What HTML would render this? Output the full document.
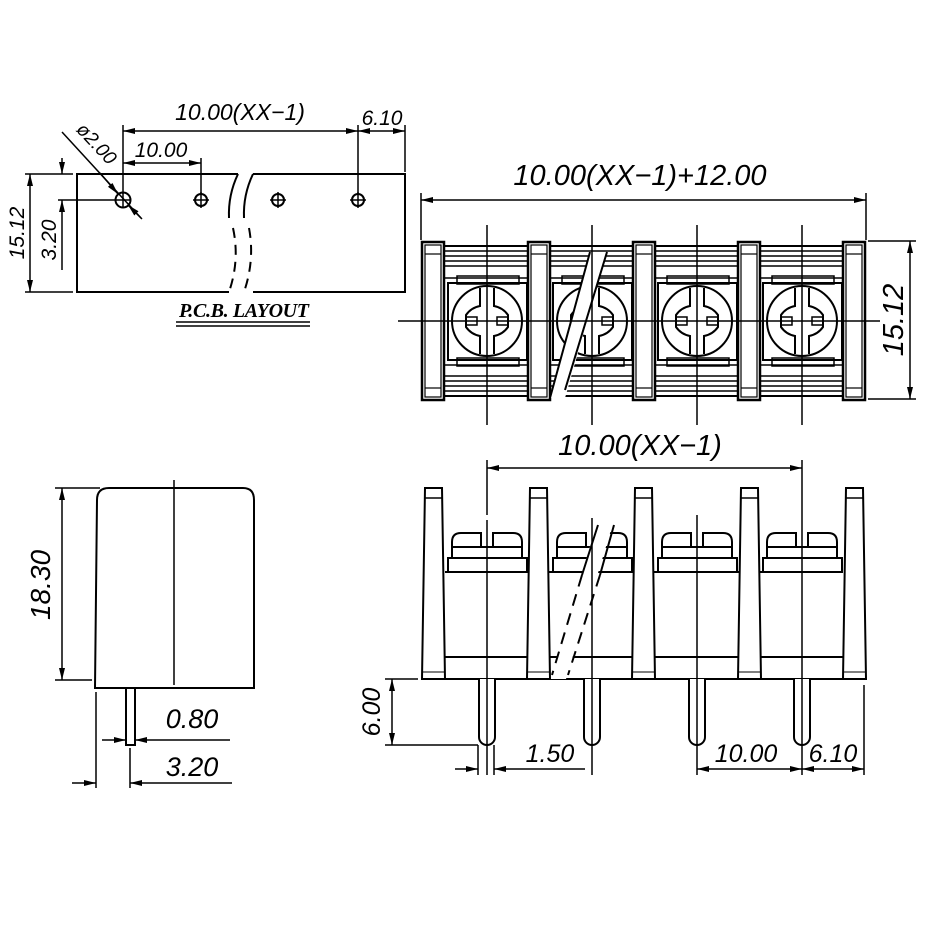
<!DOCTYPE html>
<html><head><meta charset="utf-8"><style>
html,body{margin:0;padding:0;background:#fff;}
svg{display:block;}
text{font-family:"Liberation Sans",sans-serif;font-style:italic;fill:#000;}
</style></head><body>
<svg width="945" height="945" viewBox="0 0 945 945" xmlns="http://www.w3.org/2000/svg">
<defs>
<marker id="a" viewBox="0 0 12 6" refX="12" refY="3" markerWidth="12" markerHeight="6" markerUnits="userSpaceOnUse" orient="auto-start-reverse"><path d="M0,0 L12,3 L0,6 Z" fill="#000"/></marker>
<g id="cell">
 <rect x="-39" y="-38" width="79" height="77" fill="none" stroke="#000" stroke-width="2"/>
 <rect x="-44" y="-43" width="89" height="87" fill="none" stroke="#000" stroke-width="1.5"/>
 <rect x="-30" y="-45" width="62" height="8" fill="none" stroke="#000" stroke-width="1.5"/>
 <rect x="-30" y="37" width="62" height="8" fill="none" stroke="#000" stroke-width="1.5"/>
 <circle cx="0" cy="0" r="35" fill="none" stroke="#000" stroke-width="2"/>
 <path d="M-7,-33 V-15 A22,22 0 0 0 -21,-6 V6 A22,22 0 0 0 -7,15 V33 M7,-33 V-15 A22,22 0 0 1 21,-6 V6 A22,22 0 0 1 7,15 V33" fill="none" stroke="#000" stroke-width="2"/>
 <path d="M-21,-4 H-10 V4 H-21 M21,-4 H10 V4 H21" fill="none" stroke="#000" stroke-width="1.5"/>
</g>
<g id="bar">
 <rect x="0" y="0" width="22" height="158" fill="#fff" stroke="#000" stroke-width="2.5"/>
 <rect x="3" y="3" width="16" height="152" fill="none" stroke="#000" stroke-width="1.2"/>
 <line x1="3" y1="12" x2="19" y2="12" stroke="#000" stroke-width="1.2"/>
 <line x1="3" y1="146" x2="19" y2="146" stroke="#000" stroke-width="1.2"/>
</g>
<g id="post">
 <path d="M3,0 H20 L23,191 H0 Z" fill="#fff" stroke="#000" stroke-width="2"/>
 <line x1="3" y1="10" x2="20" y2="10" stroke="#000" stroke-width="1.5"/>
 <line x1="0" y1="184" x2="23" y2="184" stroke="#000" stroke-width="1"/>
</g>
<g id="term">
 <path d="M-35,25 V9 Q-35,0 -26,0 H-6 V14 M6,14 V0 H26 Q35,0 35,9 V25" fill="none" stroke="#000" stroke-width="2"/>
 <path d="M-35,14 H35 M-35,25 H35" fill="none" stroke="#000" stroke-width="2"/>
 <rect x="-39" y="25" width="79" height="14" fill="none" stroke="#000" stroke-width="2"/>
 <path d="M-8,146 V204 A8,8 0 0 0 8,204 V146" fill="#fff" stroke="#000" stroke-width="2"/>
</g>
</defs>
<g fill="none" stroke="#000" stroke-width="2">
<path d="M238,174 H77 V292 H229 M253,292 H405 V174 H253"/>
<path d="M238,174 Q228,195 229,218 M253,174 Q243,195 244,218"/>
<path d="M233,228 Q240,260 229,292 M249,228 Q255,260 244,292" stroke-dasharray="10,7"/>
<circle cx="123" cy="200" r="7.5"/>
<circle cx="201" cy="200" r="6"/><circle cx="278" cy="200" r="6"/><circle cx="358" cy="200" r="6"/>
<path d="M115,200 H131 M123,192 V208 M193,200 H209 M201,192 V208 M270,200 H286 M278,192 V208 M350,200 H366 M358,192 V208" stroke-width="1.5"/>
<path d="M123,194 V125 M201,194 V158 M358,194 V125 M405,172 V125" stroke-width="1.5"/>
<line x1="123" y1="131" x2="358" y2="131" stroke-width="1.5" marker-start="url(#a)" marker-end="url(#a)"/>
<line x1="358" y1="131" x2="405" y2="131" stroke-width="1.5" marker-start="url(#a)" marker-end="url(#a)"/>
<line x1="123" y1="163" x2="201" y2="163" stroke-width="1.5" marker-start="url(#a)" marker-end="url(#a)"/>
<path d="M25,174 H73 M25,292 H73 M58,200 H116" stroke-width="1.5"/>
<line x1="30" y1="174" x2="30" y2="292" stroke-width="1.5" marker-start="url(#a)" marker-end="url(#a)"/>
<line x1="62" y1="158" x2="62" y2="174" stroke-width="1.5" marker-end="url(#a)"/>
<line x1="62" y1="270" x2="62" y2="200" stroke-width="1.5" marker-end="url(#a)"/>
<line x1="62" y1="132" x2="141" y2="218" stroke-width="1.5"/>
<line x1="100" y1="173" x2="118" y2="194" stroke-width="1.5" marker-end="url(#a)"/>
<line x1="142" y1="219" x2="128" y2="205" stroke-width="1.5" marker-end="url(#a)"/>
<path d="M176,322 H310 M176,326 H310" stroke-width="1.5"/>
</g>
<text x="240" y="120" font-size="23" text-anchor="middle">10.00(XX−1)</text>
<text x="382" y="125" font-size="21" text-anchor="middle">6.10</text>
<text x="161" y="157" font-size="21" text-anchor="middle">10.00</text>
<text transform="translate(24,233) rotate(-90)" font-size="21" text-anchor="middle">15.12</text>
<text transform="translate(56,240) rotate(-90)" font-size="21" text-anchor="middle">3.20</text>
<text transform="translate(92,148) rotate(47)" font-size="19" text-anchor="middle">ø2.00</text>
<text x="244" y="317" font-size="20" font-weight="bold" text-anchor="middle" style="font-family:'Liberation Serif',serif" textLength="130">P.C.B.  LAYOUT</text>

<g fill="none" stroke="#000">
<path d="M444,251 H843 M444,256 H843 M444,261 H843 M444,266 H843 M444,376 H843 M444,381 H843 M444,386 H843 M444,391 H843" stroke-width="1.5"/>
<rect x="444" y="246" width="399" height="150" stroke-width="2"/>
</g>
<use href="#cell" x="487" y="321"/><use href="#cell" x="592" y="321"/><use href="#cell" x="697" y="321"/><use href="#cell" x="802" y="321"/>
<use href="#bar" x="422" y="242"/><use href="#bar" x="528" y="242"/><use href="#bar" x="633" y="242"/><use href="#bar" x="738" y="242"/><use href="#bar" x="843" y="242"/>
<path d="M590,252 L550,398 L565,398 L607,252 Z" fill="#fff" stroke="none"/>
<path d="M590,252 L550,398 M607,252 L565,390" fill="none" stroke="#000" stroke-width="2"/>
<g fill="none" stroke="#000" stroke-width="1.5">
<path d="M398,321 H880"/>
<path d="M487,225 V425 M592,225 V425 M697,225 V425 M802,225 V425"/>
<path d="M421,240 V193 M866,240 V193 M868,241 H916 M868,399 H916"/>
<line x1="421" y1="200" x2="866" y2="200" marker-start="url(#a)" marker-end="url(#a)"/>
<line x1="910" y1="241" x2="910" y2="399" marker-start="url(#a)" marker-end="url(#a)"/>
</g>
<text x="640" y="185" font-size="29" text-anchor="middle">10.00(XX−1)+12.00</text>
<text transform="translate(903,320) rotate(-90)" font-size="29" text-anchor="middle">15.12</text>

<g fill="none" stroke="#000" stroke-width="2">
<path d="M445,572 H843 M445,657 H843 M445,679 H843"/>
</g>
<use href="#term" x="487" y="533"/><use href="#term" x="592" y="533"/><use href="#term" x="697" y="533"/><use href="#term" x="802" y="533"/>
<path d="M598,520 L550,679 L566,679 L614,520 Z" fill="#fff"/>
<path d="M598,525 L582,575 M614,525 L600,575" fill="none" stroke="#000" stroke-width="2"/>
<path d="M582,575 L552,675 M600,575 L568,675" fill="none" stroke="#000" stroke-width="2" stroke-dasharray="12,8"/>
<use href="#post" x="422" y="488"/><use href="#post" x="527" y="488"/><use href="#post" x="632" y="488"/><use href="#post" x="738" y="488"/><use href="#post" x="843" y="488"/>
<g fill="none" stroke="#000" stroke-width="1.5">
<path d="M487,460 V515 M802,460 V515 M487,520 V775 M592,518 V775 M697,515 V775 M802,515 V775 M864,685 V775 M478,745 V775 M494,745 V775"/>
<line x1="487" y1="468" x2="802" y2="468" marker-start="url(#a)" marker-end="url(#a)"/>
<path d="M385,679 H418 M385,745 H478"/>
<line x1="392" y1="679" x2="392" y2="745" marker-start="url(#a)" marker-end="url(#a)"/>
<line x1="455" y1="769" x2="478" y2="769" marker-end="url(#a)"/>
<line x1="518" y1="769" x2="494" y2="769" marker-end="url(#a)"/>
<line x1="518" y1="769" x2="585" y2="769"/>
<line x1="697" y1="769" x2="802" y2="769" marker-start="url(#a)" marker-end="url(#a)"/>
<line x1="802" y1="769" x2="864" y2="769" marker-start="url(#a)" marker-end="url(#a)"/>
</g>
<text x="640" y="455" font-size="29" text-anchor="middle">10.00(XX−1)</text>
<text transform="translate(380,712) rotate(-90)" font-size="25" text-anchor="middle">6.00</text>
<text x="550" y="762" font-size="25" text-anchor="middle">1.50</text>
<text x="746" y="762" font-size="25" text-anchor="middle">10.00</text>
<text x="833" y="762" font-size="25" text-anchor="middle">6.10</text>

<g fill="none" stroke="#000" stroke-width="2">
<path d="M95,688 L97,500 Q97,488 109,488 H243 Q254,488 254,500 L254,688 Z"/>
<rect x="126" y="688" width="9" height="57"/>
</g>
<g fill="none" stroke="#000" stroke-width="1.5">
<path d="M174,480 V685 M55,488 H100 M55,680 H92 M96,692 V788 M130,748 V788"/>
<line x1="62" y1="488" x2="62" y2="680" marker-start="url(#a)" marker-end="url(#a)"/>
<line x1="102" y1="740" x2="126" y2="740" marker-end="url(#a)"/>
<line x1="147" y1="740" x2="135" y2="740" marker-end="url(#a)"/>
<line x1="147" y1="740" x2="230" y2="740"/>
<line x1="72" y1="783" x2="96" y2="783" marker-end="url(#a)"/>
<line x1="143" y1="783" x2="130" y2="783" marker-end="url(#a)"/>
<line x1="143" y1="783" x2="232" y2="783"/>
</g>
<text transform="translate(50,585) rotate(-90)" font-size="28" text-anchor="middle">18.30</text>
<text x="192" y="728" font-size="27" text-anchor="middle">0.80</text>
<text x="192" y="776" font-size="27" text-anchor="middle">3.20</text>
</svg>
</body></html>
